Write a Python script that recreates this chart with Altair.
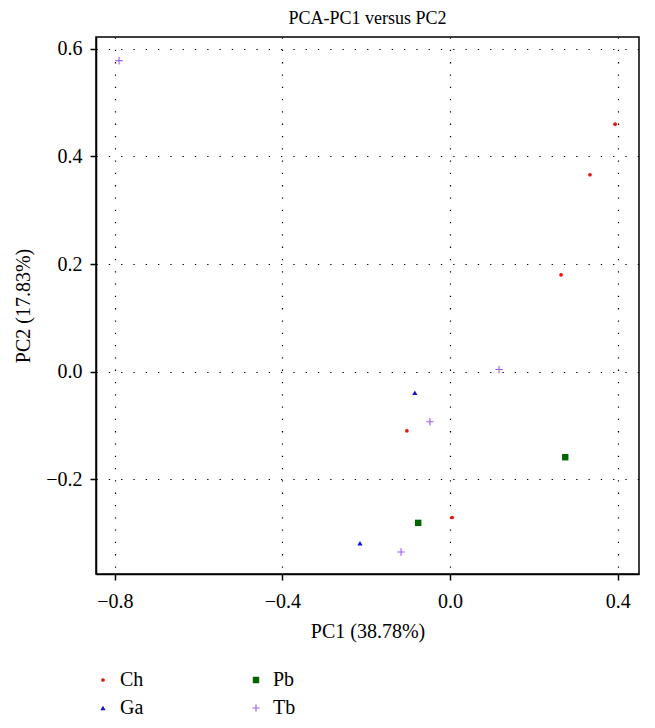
import altair as alt
import pandas as pd

groups = ["Ch", "Ch", "Ch", "Ch", "Ch",
          "Ga", "Ga",
          "Pb", "Pb",
          "Tb", "Tb", "Tb", "Tb"]
pc1 = [0.394, 0.334, 0.265, -0.103, 0.005,
       -0.084, -0.215,
       0.275, -0.076,
       -0.790, 0.117, -0.048, -0.117]
pc2 = [0.460, 0.366, 0.180, -0.110, -0.271,
       -0.039, -0.319,
       -0.159, -0.281,
       0.578, 0.004, -0.093, -0.335]

legend_order = ["Ch", "Ga", "Pb", "Tb"]
colors = ["#ee1111", "#1111dd", "#006400", "#a060e8"]
plus_path = "M-1,-0.15H1V0.15H-1Z M-0.15,-1H0.15V1H-0.15Z"
shapes = ["circle", "triangle-up", "square", plus_path]
sizes = [14, 55, 40, 95]

x_ticks = [-0.8, -0.4, 0.0, 0.4]
y_ticks = [-0.2, 0.0, 0.2, 0.4, 0.6]

df = pd.DataFrame({"group": groups, "pc1": pc1, "pc2": pc2})

FONT = "Liberation Serif"

chart = alt.Chart(df).mark_point(filled=True, opacity=1).encode(
    x=alt.X("pc1:Q", title="PC1 (38.78%)",
            scale=alt.Scale(domain=[-0.845, 0.451], nice=False, zero=False),
            axis=alt.Axis(values=x_ticks, format=".1f", grid=True,
                          gridColor="#000000", gridDash=[1.3, 11], gridWidth=1.2,
                          domainColor="#000000", domainWidth=1.5,
                          tickColor="#000000", tickWidth=1.5, tickSize=6,
                          labelPadding=11, titlePadding=10,
                          labelFontSize=20, titleFontSize=20,
                          labelFont=FONT, titleFont=FONT,
                          labelColor="#000000", titleColor="#000000",
                          titleFontWeight="normal")),
    y=alt.Y("pc2:Q", title="PC2 (17.83%)",
            scale=alt.Scale(domain=[-0.376, 0.622], nice=False, zero=False),
            axis=alt.Axis(values=y_ticks, format=".1f", grid=True,
                          gridColor="#000000", gridDash=[1.3, 11], gridWidth=1.2,
                          domainColor="#000000", domainWidth=1.5,
                          tickColor="#000000", tickWidth=1.5, tickSize=6,
                          labelPadding=8, titlePadding=12,
                          labelFontSize=20, titleFontSize=20,
                          labelFont=FONT, titleFont=FONT,
                          labelColor="#000000", titleColor="#000000",
                          titleFontWeight="normal")),
    color=alt.Color("group:N", scale=alt.Scale(domain=legend_order, range=colors),
                    legend=alt.Legend(title=None, orient="none", legendX=-3, legendY=633,
                                      columns=2, columnPadding=102, rowPadding=8,
                                      labelFont=FONT, labelFontSize=20,
                                      labelColor="#000000", labelOffset=7,
                                      symbolStrokeWidth=0)),
    shape=alt.Shape("group:N", scale=alt.Scale(domain=legend_order, range=shapes)),
    size=alt.Size("group:N", scale=alt.Scale(domain=legend_order, range=sizes)),
).properties(
    width=543,
    height=537,
    title=alt.Title("PCA-PC1 versus PC2", font=FONT, fontSize=18,
                    fontWeight="normal", color="#000000", offset=9),
    padding={"top": 2, "left": 5, "right": 5, "bottom": 5},
).configure_view(
    stroke="#000000", strokeWidth=1.5
)

chart.save("out.html", embed_options={"renderer": "svg", "actions": False})
